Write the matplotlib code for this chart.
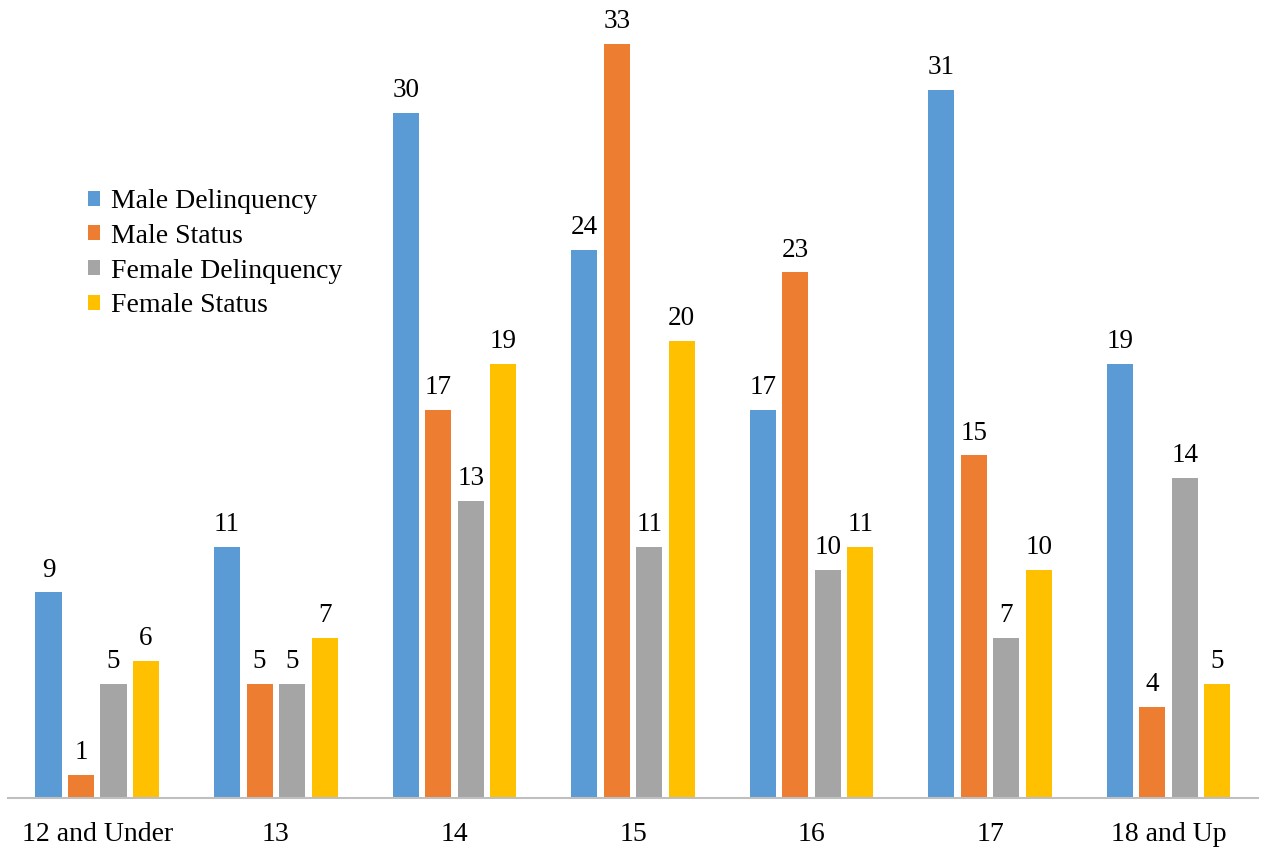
import matplotlib
matplotlib.use("Agg")
import matplotlib.pyplot as plt
import numpy as np

categories = ["12 and Under", "13", "14", "15", "16", "17", "18 and Up"]
series_names = ["Male Delinquency", "Male Status", "Female Delinquency", "Female Status"]
male_delinquency = [9, 11, 30, 24, 17, 31, 19]
male_status = [1, 5, 17, 33, 23, 15, 4]
female_delinquency = [5, 5, 13, 11, 10, 7, 14]
female_status = [6, 7, 19, 20, 11, 10, 5]
colors = ["#5B9BD5", "#ED7D31", "#A5A5A5", "#FFC000"]

plt.rcParams['font.family'] = ['Liberation Serif', 'DejaVu Serif']

fig = plt.figure(figsize=(12.61, 8.52), dpi=100)
ax = fig.add_axes([8 / 1261, 1 - 798 / 852, 1250 / 1261, 798 / 852])

x = np.arange(len(categories))
step = 0.182
width = 0.146
all_series = [male_delinquency, male_status, female_delinquency, female_status]
for i, (vals, name, col) in enumerate(zip(all_series, series_names, colors)):
    pos = x + (i - 1.5) * step
    bars = ax.bar(pos, vals, width, color=col, label=name)
    for b, v in zip(bars, vals):
        ax.annotate(str(v), (b.get_x() + b.get_width() / 2, v),
                    xytext=(0, 7), textcoords="offset points",
                    ha="center", va="bottom", fontsize=19.5, color="#000000")

ax.set_xlim(-0.5, 6.5)
ax.set_ylim(0, 798 / 22.85)
ax.set_xticks(x)
ax.set_xticklabels(categories, fontsize=20)
ax.tick_params(axis="x", length=0, pad=17)
ax.set_yticks([])
for s in ["top", "right", "left"]:
    ax.spines[s].set_visible(False)
ax.spines["bottom"].set_color("#BFBFBF")
ax.spines["bottom"].set_linewidth(1.5)

leg = ax.legend(loc="upper left", bbox_to_anchor=(0.055, 0.777), frameon=False,
                fontsize=20, handlelength=0.45, handleheight=0.45,
                handletextpad=0.38, labelspacing=0.35, borderaxespad=0)

fig.savefig("out.png", dpi=100)
